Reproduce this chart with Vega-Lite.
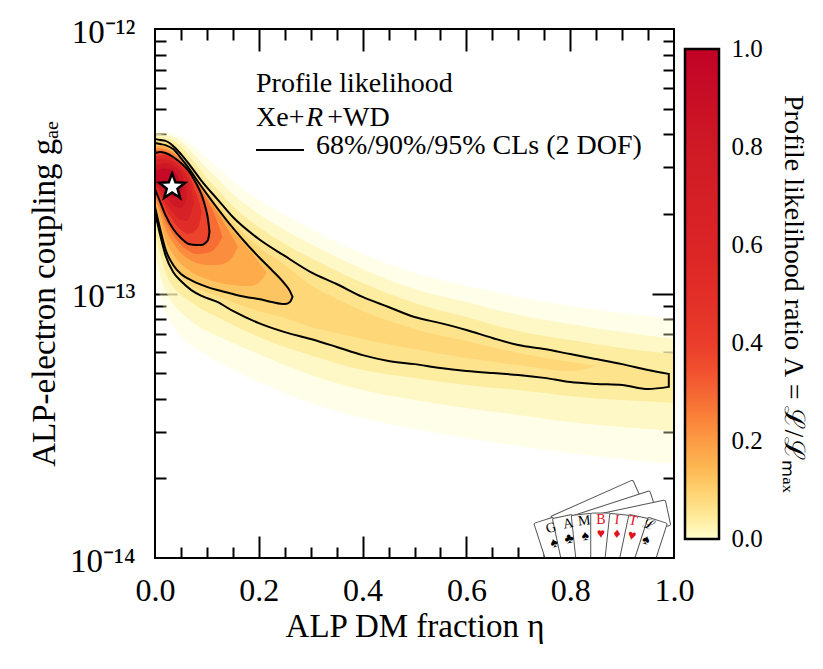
{
  "$schema": "https://vega.github.io/schema/vega-lite/v6.json",
  "background": "white",
  "padding": {"left": 28, "top": 16, "right": 5, "bottom": 5},
  "bounds": "flush",
  "spacing": 11,
  "datasets": {
    "bands": [
      {"b":"A","v":0.01,"x":0,"hi":-12.382,"lo":-12.938},
      {"b":"A","v":0.01,"x":0.01,"hi":-12.386,"lo":-13.013},
      {"b":"A","v":0.01,"x":0.02,"hi":-12.389,"lo":-13.070},
      {"b":"A","v":0.01,"x":0.04,"hi":-12.397,"lo":-13.138},
      {"b":"A","v":0.01,"x":0.06,"hi":-12.420,"lo":-13.180},
      {"b":"A","v":0.01,"x":0.08,"hi":-12.454,"lo":-13.210},
      {"b":"A","v":0.01,"x":0.10,"hi":-12.488,"lo":-13.233},
      {"b":"A","v":0.01,"x":0.12,"hi":-12.522,"lo":-13.255},
      {"b":"A","v":0.01,"x":0.15,"hi":-12.575,"lo":-13.285},
      {"b":"A","v":0.01,"x":0.2,"hi":-12.646,"lo":-13.335},
      {"b":"A","v":0.01,"x":0.25,"hi":-12.703,"lo":-13.376},
      {"b":"A","v":0.01,"x":0.3,"hi":-12.756,"lo":-13.414},
      {"b":"A","v":0.01,"x":0.4,"hi":-12.851,"lo":-13.471},
      {"b":"A","v":0.01,"x":0.5,"hi":-12.922,"lo":-13.512},
      {"b":"A","v":0.01,"x":0.6,"hi":-12.972,"lo":-13.546},
      {"b":"A","v":0.01,"x":0.7,"hi":-13.013,"lo":-13.577},
      {"b":"A","v":0.01,"x":0.8,"hi":-13.047,"lo":-13.603},
      {"b":"A","v":0.01,"x":0.9,"hi":-13.074,"lo":-13.626},
      {"b":"A","v":0.01,"x":1.0,"hi":-13.096,"lo":-13.645},
      {"b":"B","v":0.022,"x":0,"hi":-12.393,"lo":-12.843},
      {"b":"B","v":0.022,"x":0.01,"hi":-12.397,"lo":-12.930},
      {"b":"B","v":0.022,"x":0.02,"hi":-12.401,"lo":-12.987},
      {"b":"B","v":0.022,"x":0.04,"hi":-12.412,"lo":-13.051},
      {"b":"B","v":0.022,"x":0.06,"hi":-12.442,"lo":-13.089},
      {"b":"B","v":0.022,"x":0.08,"hi":-12.484,"lo":-13.119},
      {"b":"B","v":0.022,"x":0.10,"hi":-12.526,"lo":-13.142},
      {"b":"B","v":0.022,"x":0.12,"hi":-12.563,"lo":-13.161},
      {"b":"B","v":0.022,"x":0.15,"hi":-12.624,"lo":-13.187},
      {"b":"B","v":0.022,"x":0.2,"hi":-12.699,"lo":-13.229},
      {"b":"B","v":0.022,"x":0.25,"hi":-12.760,"lo":-13.270},
      {"b":"B","v":0.022,"x":0.3,"hi":-12.813,"lo":-13.308},
      {"b":"B","v":0.022,"x":0.4,"hi":-12.907,"lo":-13.365},
      {"b":"B","v":0.022,"x":0.5,"hi":-12.983,"lo":-13.403},
      {"b":"B","v":0.022,"x":0.6,"hi":-13.032,"lo":-13.433},
      {"b":"B","v":0.022,"x":0.7,"hi":-13.081,"lo":-13.459},
      {"b":"B","v":0.022,"x":0.8,"hi":-13.115,"lo":-13.486},
      {"b":"B","v":0.022,"x":0.9,"hi":-13.146,"lo":-13.505},
      {"b":"B","v":0.022,"x":1.0,"hi":-13.172,"lo":-13.520},
      {"b":"C","v":0.04,"x":0,"hi":-12.405,"lo":-12.767},
      {"b":"C","v":0.04,"x":0.01,"hi":-12.408,"lo":-12.851},
      {"b":"C","v":0.04,"x":0.02,"hi":-12.412,"lo":-12.919},
      {"b":"C","v":0.04,"x":0.04,"hi":-12.427,"lo":-12.987},
      {"b":"C","v":0.04,"x":0.06,"hi":-12.465,"lo":-13.021},
      {"b":"C","v":0.04,"x":0.08,"hi":-12.514,"lo":-13.047},
      {"b":"C","v":0.04,"x":0.10,"hi":-12.563,"lo":-13.070},
      {"b":"C","v":0.04,"x":0.12,"hi":-12.605,"lo":-13.089},
      {"b":"C","v":0.04,"x":0.15,"hi":-12.669,"lo":-13.119},
      {"b":"C","v":0.04,"x":0.2,"hi":-12.749,"lo":-13.164},
      {"b":"C","v":0.04,"x":0.25,"hi":-12.813,"lo":-13.202},
      {"b":"C","v":0.04,"x":0.3,"hi":-12.866,"lo":-13.233},
      {"b":"C","v":0.04,"x":0.4,"hi":-12.960,"lo":-13.289},
      {"b":"C","v":0.04,"x":0.5,"hi":-13.036,"lo":-13.319},
      {"b":"C","v":0.04,"x":0.6,"hi":-13.089,"lo":-13.346},
      {"b":"C","v":0.04,"x":0.7,"hi":-13.142,"lo":-13.365},
      {"b":"C","v":0.04,"x":0.8,"hi":-13.176,"lo":-13.388},
      {"b":"C","v":0.04,"x":0.9,"hi":-13.206,"lo":-13.403},
      {"b":"C","v":0.04,"x":1.0,"hi":-13.229,"lo":-13.414},
      {"b":"D","v":0.06,"x":0,"hi":-12.416,"lo":-12.692},
      {"b":"D","v":0.06,"x":0.01,"hi":-12.420,"lo":-12.779},
      {"b":"D","v":0.06,"x":0.02,"hi":-12.423,"lo":-12.854},
      {"b":"D","v":0.06,"x":0.035,"hi":-12.442,"lo":-12.919},
      {"b":"D","v":0.06,"x":0.05,"hi":-12.473,"lo":-12.953},
      {"b":"D","v":0.06,"x":0.07,"hi":-12.522,"lo":-12.987},
      {"b":"D","v":0.06,"x":0.09,"hi":-12.575,"lo":-13.009},
      {"b":"D","v":0.06,"x":0.12,"hi":-12.643,"lo":-13.032},
      {"b":"D","v":0.06,"x":0.15,"hi":-12.711,"lo":-13.066},
      {"b":"D","v":0.06,"x":0.2,"hi":-12.794,"lo":-13.112},
      {"b":"D","v":0.06,"x":0.25,"hi":-12.858,"lo":-13.146},
      {"b":"D","v":0.06,"x":0.3,"hi":-12.919,"lo":-13.172},
      {"b":"D","v":0.06,"x":0.35,"hi":-12.964,"lo":-13.202},
      {"b":"D","v":0.06,"x":0.4,"hi":-13.013,"lo":-13.233},
      {"b":"D","v":0.06,"x":0.45,"hi":-13.051,"lo":-13.255},
      {"b":"D","v":0.06,"x":0.5,"hi":-13.089,"lo":-13.267},
      {"b":"D","v":0.06,"x":0.55,"hi":-13.112,"lo":-13.282},
      {"b":"D","v":0.06,"x":0.6,"hi":-13.138,"lo":-13.293},
      {"b":"D","v":0.06,"x":0.65,"hi":-13.168,"lo":-13.301},
      {"b":"D","v":0.06,"x":0.7,"hi":-13.195,"lo":-13.308},
      {"b":"D","v":0.06,"x":0.75,"hi":-13.210,"lo":-13.319},
      {"b":"D","v":0.06,"x":0.8,"hi":-13.229,"lo":-13.335},
      {"b":"D","v":0.06,"x":0.85,"hi":-13.248,"lo":-13.342},
      {"b":"D","v":0.06,"x":0.9,"hi":-13.267,"lo":-13.346},
      {"b":"D","v":0.06,"x":0.95,"hi":-13.289,"lo":-13.361},
      {"b":"D","v":0.06,"x":0.99,"hi":-13.304,"lo":-13.353},
      {"b":"E","v":0.085,"x":0,"hi":-12.423,"lo":-12.681},
      {"b":"E","v":0.085,"x":0.01,"hi":-12.427,"lo":-12.767},
      {"b":"E","v":0.085,"x":0.02,"hi":-12.431,"lo":-12.843},
      {"b":"E","v":0.085,"x":0.035,"hi":-12.448,"lo":-12.905},
      {"b":"E","v":0.085,"x":0.05,"hi":-12.480,"lo":-12.939},
      {"b":"E","v":0.085,"x":0.07,"hi":-12.531,"lo":-12.970},
      {"b":"E","v":0.085,"x":0.09,"hi":-12.586,"lo":-12.989},
      {"b":"E","v":0.085,"x":0.12,"hi":-12.660,"lo":-13.009},
      {"b":"E","v":0.085,"x":0.15,"hi":-12.730,"lo":-13.034},
      {"b":"E","v":0.085,"x":0.2,"hi":-12.824,"lo":-13.066},
      {"b":"E","v":0.085,"x":0.25,"hi":-12.892,"lo":-13.093},
      {"b":"E","v":0.085,"x":0.3,"hi":-12.968,"lo":-13.127},
      {"b":"E","v":0.085,"x":0.35,"hi":-13.021,"lo":-13.149},
      {"b":"E","v":0.085,"x":0.4,"hi":-13.066,"lo":-13.172},
      {"b":"E","v":0.085,"x":0.5,"hi":-13.134,"lo":-13.210},
      {"b":"E","v":0.085,"x":0.6,"hi":-13.180,"lo":-13.244},
      {"b":"E","v":0.085,"x":0.7,"hi":-13.225,"lo":-13.270},
      {"b":"E","v":0.085,"x":0.8,"hi":-13.259,"lo":-13.293},
      {"b":"E","v":0.085,"x":0.85,"hi":-13.274,"lo":-13.274},
      {"b":"F","v":0.12,"x":0,"hi":-12.431,"lo":-12.673},
      {"b":"F","v":0.12,"x":0.01,"hi":-12.435,"lo":-12.756},
      {"b":"F","v":0.12,"x":0.02,"hi":-12.439,"lo":-12.832},
      {"b":"F","v":0.12,"x":0.035,"hi":-12.454,"lo":-12.892},
      {"b":"F","v":0.12,"x":0.05,"hi":-12.488,"lo":-12.926},
      {"b":"F","v":0.12,"x":0.065,"hi":-12.526,"lo":-12.945},
      {"b":"F","v":0.12,"x":0.08,"hi":-12.569,"lo":-12.960},
      {"b":"F","v":0.12,"x":0.1,"hi":-12.624,"lo":-12.975},
      {"b":"F","v":0.12,"x":0.12,"hi":-12.677,"lo":-12.987},
      {"b":"F","v":0.12,"x":0.15,"hi":-12.752,"lo":-13.002},
      {"b":"F","v":0.12,"x":0.175,"hi":-12.809,"lo":-13.013},
      {"b":"F","v":0.12,"x":0.2,"hi":-12.862,"lo":-13.021},
      {"b":"F","v":0.12,"x":0.225,"hi":-12.911,"lo":-13.032},
      {"b":"F","v":0.12,"x":0.25,"hi":-12.964,"lo":-13.040},
      {"b":"F","v":0.12,"x":0.26,"hi":-12.991,"lo":-13.032},
      {"b":"F","v":0.12,"x":0.265,"hi":-13.013,"lo":-13.013},
      {"b":"G","v":0.17,"x":0,"hi":-12.442,"lo":-12.654},
      {"b":"G","v":0.17,"x":0.01,"hi":-12.442,"lo":-12.726},
      {"b":"G","v":0.17,"x":0.02,"hi":-12.446,"lo":-12.794},
      {"b":"G","v":0.17,"x":0.035,"hi":-12.461,"lo":-12.851},
      {"b":"G","v":0.17,"x":0.05,"hi":-12.491,"lo":-12.888},
      {"b":"G","v":0.17,"x":0.065,"hi":-12.527,"lo":-12.911},
      {"b":"G","v":0.17,"x":0.08,"hi":-12.571,"lo":-12.930},
      {"b":"G","v":0.17,"x":0.1,"hi":-12.629,"lo":-12.945},
      {"b":"G","v":0.17,"x":0.12,"hi":-12.684,"lo":-12.957},
      {"b":"G","v":0.17,"x":0.15,"hi":-12.764,"lo":-12.968},
      {"b":"G","v":0.17,"x":0.18,"hi":-12.832,"lo":-12.972},
      {"b":"G","v":0.17,"x":0.2,"hi":-12.881,"lo":-12.960},
      {"b":"G","v":0.17,"x":0.215,"hi":-12.922,"lo":-12.922},
      {"b":"H","v":0.225,"x":0,"hi":-12.450,"lo":-12.635},
      {"b":"H","v":0.225,"x":0.01,"hi":-12.450,"lo":-12.696},
      {"b":"H","v":0.225,"x":0.02,"hi":-12.454,"lo":-12.756},
      {"b":"H","v":0.225,"x":0.035,"hi":-12.469,"lo":-12.809},
      {"b":"H","v":0.225,"x":0.05,"hi":-12.495,"lo":-12.847},
      {"b":"H","v":0.225,"x":0.065,"hi":-12.529,"lo":-12.870},
      {"b":"H","v":0.225,"x":0.08,"hi":-12.575,"lo":-12.885},
      {"b":"H","v":0.225,"x":0.1,"hi":-12.635,"lo":-12.892},
      {"b":"H","v":0.225,"x":0.12,"hi":-12.692,"lo":-12.892},
      {"b":"H","v":0.225,"x":0.14,"hi":-12.756,"lo":-12.881},
      {"b":"H","v":0.225,"x":0.16,"hi":-12.824,"lo":-12.824},
      {"b":"I","v":0.285,"x":0,"hi":-12.457,"lo":-12.624},
      {"b":"I","v":0.285,"x":0.01,"hi":-12.457,"lo":-12.677},
      {"b":"I","v":0.285,"x":0.02,"hi":-12.461,"lo":-12.726},
      {"b":"I","v":0.285,"x":0.035,"hi":-12.476,"lo":-12.779},
      {"b":"I","v":0.285,"x":0.05,"hi":-12.501,"lo":-12.817},
      {"b":"I","v":0.285,"x":0.065,"hi":-12.533,"lo":-12.839},
      {"b":"I","v":0.285,"x":0.08,"hi":-12.578,"lo":-12.851},
      {"b":"I","v":0.285,"x":0.1,"hi":-12.646,"lo":-12.847},
      {"b":"I","v":0.285,"x":0.115,"hi":-12.703,"lo":-12.832},
      {"b":"I","v":0.285,"x":0.13,"hi":-12.786,"lo":-12.786},
      {"b":"J","v":0.38,"x":0,"hi":-12.469,"lo":-12.605},
      {"b":"J","v":0.38,"x":0.01,"hi":-12.465,"lo":-12.654},
      {"b":"J","v":0.38,"x":0.02,"hi":-12.469,"lo":-12.703},
      {"b":"J","v":0.38,"x":0.035,"hi":-12.484,"lo":-12.756},
      {"b":"J","v":0.38,"x":0.05,"hi":-12.507,"lo":-12.790},
      {"b":"J","v":0.38,"x":0.065,"hi":-12.537,"lo":-12.813},
      {"b":"J","v":0.38,"x":0.08,"hi":-12.586,"lo":-12.817},
      {"b":"J","v":0.38,"x":0.09,"hi":-12.628,"lo":-12.817},
      {"b":"J","v":0.38,"x":0.097,"hi":-12.673,"lo":-12.809},
      {"b":"J","v":0.38,"x":0.102,"hi":-12.718,"lo":-12.798},
      {"b":"J","v":0.38,"x":0.105,"hi":-12.767,"lo":-12.767},
      {"b":"K","v":0.52,"x":0,"hi":-12.484,"lo":-12.597},
      {"b":"K","v":0.52,"x":0.01,"hi":-12.476,"lo":-12.635},
      {"b":"K","v":0.52,"x":0.02,"hi":-12.476,"lo":-12.677},
      {"b":"K","v":0.52,"x":0.035,"hi":-12.491,"lo":-12.726},
      {"b":"K","v":0.52,"x":0.05,"hi":-12.514,"lo":-12.760},
      {"b":"K","v":0.52,"x":0.065,"hi":-12.548,"lo":-12.775},
      {"b":"K","v":0.52,"x":0.075,"hi":-12.597,"lo":-12.767},
      {"b":"K","v":0.52,"x":0.085,"hi":-12.654,"lo":-12.741},
      {"b":"K","v":0.52,"x":0.09,"hi":-12.692,"lo":-12.692},
      {"b":"L","v":0.67,"x":0,"hi":-12.499,"lo":-12.590},
      {"b":"L","v":0.67,"x":0.01,"hi":-12.491,"lo":-12.620},
      {"b":"L","v":0.67,"x":0.02,"hi":-12.491,"lo":-12.654},
      {"b":"L","v":0.67,"x":0.035,"hi":-12.503,"lo":-12.696},
      {"b":"L","v":0.67,"x":0.05,"hi":-12.526,"lo":-12.722},
      {"b":"L","v":0.67,"x":0.06,"hi":-12.552,"lo":-12.726},
      {"b":"L","v":0.67,"x":0.07,"hi":-12.605,"lo":-12.696},
      {"b":"L","v":0.67,"x":0.075,"hi":-12.654,"lo":-12.654},
      {"b":"M","v":0.82,"x":0,"hi":-12.518,"lo":-12.578},
      {"b":"M","v":0.82,"x":0.01,"hi":-12.510,"lo":-12.605},
      {"b":"M","v":0.82,"x":0.02,"hi":-12.507,"lo":-12.631},
      {"b":"M","v":0.82,"x":0.035,"hi":-12.518,"lo":-12.665},
      {"b":"M","v":0.82,"x":0.05,"hi":-12.544,"lo":-12.677},
      {"b":"M","v":0.82,"x":0.058,"hi":-12.590,"lo":-12.658},
      {"b":"M","v":0.82,"x":0.062,"hi":-12.628,"lo":-12.628},
      {"b":"N","v":0.95,"x":0,"hi":-12.541,"lo":-12.567},
      {"b":"N","v":0.95,"x":0.01,"hi":-12.529,"lo":-12.586},
      {"b":"N","v":0.95,"x":0.02,"hi":-12.526,"lo":-12.609},
      {"b":"N","v":0.95,"x":0.035,"hi":-12.537,"lo":-12.635},
      {"b":"N","v":0.95,"x":0.045,"hi":-12.563,"lo":-12.635},
      {"b":"N","v":0.95,"x":0.052,"hi":-12.605,"lo":-12.605}
    ],
    "star": [{"x":0.033,"lg":-12.597}],
    "notes": [
      {"x":0.1946,"lg":-12.238,"t":"Profile likelihood"},
      {"x":0.1946,"lg":-12.366,"t":"Xe+"},
      {"x":0.332,"lg":-12.366,"t":"+WD"},
      {"x":0.3102,"lg":-12.473,"t":"68%/90%/95% CLs (2 DOF)"}
    ],
    "notesItalic": [{"x":0.2909,"lg":-12.366,"t":"R"}],
    "legline": [{"x":0.1946,"x2":0.2871,"lg":-12.457}],
    "backcards": [
      {"i":7,"x":0.8516,"lg":-13.819},
      {"i":8,"x":0.8786,"lg":-13.845},
      {"i":9,"x":0.9037,"lg":-13.864}
    ],
    "cards": [
      {"i":0,"x":0.765,"lg":-13.958},
      {"i":1,"x":0.796,"lg":-13.947},
      {"i":2,"x":0.827,"lg":-13.940},
      {"i":3,"x":0.859,"lg":-13.936},
      {"i":4,"x":0.890,"lg":-13.940},
      {"i":5,"x":0.921,"lg":-13.947},
      {"i":6,"x":0.952,"lg":-13.958}
    ],
    "glyphs": [
      {"i":0,"x":0.763,"lg":-13.887,"t":"G"},
      {"i":1,"x":0.796,"lg":-13.871,"t":"A"},
      {"i":2,"x":0.827,"lg":-13.860,"t":"M"},
      {"i":3,"x":0.859,"lg":-13.856,"t":"B"},
      {"i":4,"x":0.890,"lg":-13.856,"t":"I"},
      {"i":5,"x":0.921,"lg":-13.860,"t":"T"},
      {"i":6,"x":0.952,"lg":-13.875,"t":"ℒ"},
      {"i":0,"x":0.769,"lg":-13.943,"t":"♠"},
      {"i":1,"x":0.798,"lg":-13.928,"t":"♣"},
      {"i":2,"x":0.829,"lg":-13.917,"t":"♠"},
      {"i":3,"x":0.859,"lg":-13.909,"t":"♥"},
      {"i":4,"x":0.890,"lg":-13.909,"t":"♦"},
      {"i":5,"x":0.919,"lg":-13.917,"t":"♥"},
      {"i":6,"x":0.946,"lg":-13.932,"t":"♠"}
    ],
    "frame": [{"x0":0,"x1":1,"y0":-14,"y1":-12}],
    "cbar": [{"x0":0,"x1":1,"lo":0,"hi":1}]
  },
  "hconcat": [
    {
      "width": 519,
      "height": 529,
      "layer": [
        {
          "data": {"name": "bands"},
          "encoding": {
            "x": {"field":"x","type":"quantitative","scale":{"domain":[0,1],"nice":false,"zero":false},
                  "axis":{"orient":"bottom","values":[0,0.2,0.4,0.6,0.8,1],"format":".1f","ticks":false,"labelFontSize":32,"labelPadding":17,"title":"ALP DM fraction η","titleFontSize":33,"titlePadding":4}},
            "y": {"field":"lo","type":"quantitative","scale":{"domain":[-14,-12],"nice":false,"zero":false},
                  "axis":{"orient":"left","values":[-14,-13,-12],"labelExpr":"datum.value == -12 ? '10⁻¹²' : (datum.value == -13 ? '10⁻¹³' : '10⁻¹⁴')","ticks":false,"labelFontSize":33,"labelPadding":20,"labelOffset":3,"title":"ALP-electron coupling gₐₑ","titleFontSize":33,"titlePadding":8}},
            "y2": {"field":"hi"},
            "color": {"field":"v","type":"quantitative","legend":null,
                      "scale":{"domain":[0,0.05,0.1,0.15,0.2,0.25,0.3,0.35,0.4,0.5,0.6,0.8,1.0],
                               "range":["#ffffcc","#fee895","#fed06e","#fdb551","#fc9b44","#fa8039","#f56533","#f04e2e","#ea3d2b","#e22e27","#da2426","#cf1a25","#c10226"]}},
            "opacity": {"condition":[{"test":"datum.v < 0.015","value":0.35},{"test":"datum.v < 0.03","value":0.65}],"value":1}
          },
          "layer": [
            {"transform":[{"filter":"datum.b==='A'"}],"mark":{"type":"area","interpolate":"monotone","clip":true}},
            {"transform":[{"filter":"datum.b==='B'"}],"mark":{"type":"area","interpolate":"monotone","clip":true}},
            {"transform":[{"filter":"datum.b==='C'"}],"mark":{"type":"area","interpolate":"monotone","clip":true}},
            {"transform":[{"filter":"datum.b==='D'"}],"mark":{"type":"area","interpolate":"monotone","clip":true}},
            {"transform":[{"filter":"datum.b==='E'"}],"mark":{"type":"area","interpolate":"monotone","clip":true}},
            {"transform":[{"filter":"datum.b==='F'"}],"mark":{"type":"area","interpolate":"monotone","clip":true}},
            {"transform":[{"filter":"datum.b==='G'"}],"mark":{"type":"area","interpolate":"monotone","clip":true}},
            {"transform":[{"filter":"datum.b==='H'"}],"mark":{"type":"area","interpolate":"monotone","clip":true}},
            {"transform":[{"filter":"datum.b==='I'"}],"mark":{"type":"area","interpolate":"monotone","clip":true}},
            {"transform":[{"filter":"datum.b==='J'"}],"mark":{"type":"area","interpolate":"monotone","clip":true}},
            {"transform":[{"filter":"datum.b==='K'"}],"mark":{"type":"area","interpolate":"monotone","clip":true}},
            {"transform":[{"filter":"datum.b==='L'"}],"mark":{"type":"area","interpolate":"monotone","clip":true}},
            {"transform":[{"filter":"datum.b==='M'"}],"mark":{"type":"area","interpolate":"monotone","clip":true}},
            {"transform":[{"filter":"datum.b==='N'"}],"mark":{"type":"area","interpolate":"monotone","clip":true}}
          ]
        },
        {
          "data": {"name": "bands"},
          "encoding": {
            "x": {"field":"x","type":"quantitative","scale":{"domain":[0,1],"nice":false,"zero":false},
                  "axis":{"orient":"bottom","values":[0.2,0.4,0.6,0.8],"labels":false,"tickSize":-22,"title":null}},
            "y": {"field":"lo","type":"quantitative","scale":{"domain":[-14,-12],"nice":false,"zero":false},
                  "axis":{"orient":"left","values":[-13],"labels":false,"tickSize":-22,"title":null}},
            "y2": {"field":"hi"}
          },
          "layer": [
            {"transform":[{"filter":"datum.b==='D'"}],"mark":{"type":"area","interpolate":"monotone","fillOpacity":0,"stroke":"black","strokeWidth":2,"clip":true}},
            {"transform":[{"filter":"datum.b==='F'"}],"mark":{"type":"area","interpolate":"monotone","fillOpacity":0,"stroke":"black","strokeWidth":2,"clip":true}},
            {"transform":[{"filter":"datum.b==='J'"}],"mark":{"type":"area","interpolate":"monotone","fillOpacity":0,"stroke":"black","strokeWidth":2,"clip":true}}
          ]
        },
        {
          "data": {"name": "star"},
          "mark": {"type":"point","shape":"M0,-1L0.247,-0.34L0.951,-0.309L0.399,0.13L0.588,0.809L0,0.42L-0.588,0.809L-0.399,0.13L-0.951,-0.309L-0.247,-0.34Z","size":729,"filled":true,"fill":"white","stroke":"black","strokeWidth":2.5,"opacity":1},
          "encoding": {
            "x": {"field":"x","type":"quantitative","scale":{"domain":[0,1],"nice":false,"zero":false},
                  "axis":{"orient":"bottom","values":[0.05,0.1,0.15,0.25,0.3,0.35,0.45,0.5,0.55,0.65,0.7,0.75,0.85,0.9,0.95],"labels":false,"tickSize":-11,"title":null}},
            "y": {"field":"lg","type":"quantitative","scale":{"domain":[-14,-12],"nice":false,"zero":false},
                  "axis":{"orient":"left","values":[-13.699,-13.523,-13.398,-13.301,-13.222,-13.155,-13.097,-13.046,-12.699,-12.523,-12.398,-12.301,-12.222,-12.155,-12.097,-12.046],"labels":false,"tickSize":-11,"title":null}}
          }
        },
        {
          "data": {"name": "notes"},
          "mark": {"type":"text","align":"left","baseline":"alphabetic","fontSize":28,"font":"Liberation Serif","color":"black"},
          "encoding": {
            "x": {"field":"x","type":"quantitative","scale":{"domain":[0,1],"nice":false,"zero":false},
                  "axis":{"orient":"top","values":[0.2,0.4,0.6,0.8],"labels":false,"tickSize":-22,"title":null}},
            "y": {"field":"lg","type":"quantitative","scale":{"domain":[-14,-12],"nice":false,"zero":false},
                  "axis":{"orient":"right","values":[-13],"labels":false,"tickSize":-22,"title":null}},
            "text": {"field":"t"}
          }
        },
        {
          "data": {"name": "legline"},
          "mark": {"type":"rule","stroke":"black","strokeWidth":2},
          "encoding": {
            "x": {"field":"x","type":"quantitative","scale":{"domain":[0,1],"nice":false,"zero":false},
                  "axis":{"orient":"top","values":[0.05,0.1,0.15,0.25,0.3,0.35,0.45,0.5,0.55,0.65,0.7,0.75,0.85,0.9,0.95],"labels":false,"tickSize":-11,"title":null}},
            "x2": {"field":"x2"},
            "y": {"field":"lg","type":"quantitative","scale":{"domain":[-14,-12],"nice":false,"zero":false},
                  "axis":{"orient":"right","values":[-13.699,-13.523,-13.398,-13.301,-13.222,-13.155,-13.097,-13.046,-12.699,-12.523,-12.398,-12.301,-12.222,-12.155,-12.097,-12.046],"labels":false,"tickSize":-11,"title":null}}
          }
        },
        {
          "data": {"name": "notesItalic"},
          "mark": {"type":"text","align":"left","baseline":"alphabetic","fontSize":28,"font":"Liberation Serif","fontStyle":"italic","color":"black"},
          "encoding": {
            "x": {"field":"x","type":"quantitative","scale":{"domain":[0,1],"nice":false,"zero":false},"axis":null},
            "y": {"field":"lg","type":"quantitative","scale":{"domain":[-14,-12],"nice":false,"zero":false},"axis":null},
            "text": {"field":"t"}
          }
        },
        {
          "data": {"name": "backcards"},
          "mark": {"type":"point","shape":"M-0.25,-1L0.25,-1Q0.29,-1 0.29,-0.96L0.29,0.96Q0.29,1 0.25,1L-0.25,1Q-0.29,1 -0.29,0.96L-0.29,-0.96Q-0.29,-1 -0.25,-1Z","size":8100,"filled":true,"fill":"white","stroke":"#555555","strokeWidth":1,"opacity":1,"clip":true},
          "encoding": {
            "x": {"field":"x","type":"quantitative","scale":{"domain":[0,1],"nice":false,"zero":false},"axis":null},
            "y": {"field":"lg","type":"quantitative","scale":{"domain":[-14,-12],"nice":false,"zero":false},"axis":null},
            "angle": {"field":"i","type":"quantitative","scale":{"domain":[0,6,7,9],"range":[-18,18,66,78]},"legend":null}
          }
        },
        {
          "data": {"name": "cards"},
          "mark": {"type":"point","shape":"M-0.3,-1L0.3,-1Q0.36,-1 0.36,-0.95L0.36,0.95Q0.36,1 0.3,1L-0.3,1Q-0.36,1 -0.36,0.95L-0.36,-0.95Q-0.36,-1 -0.3,-1Z","size":3136,"filled":true,"fill":"white","stroke":"#555555","strokeWidth":1,"opacity":1,"clip":true},
          "encoding": {
            "x": {"field":"x","type":"quantitative","scale":{"domain":[0,1],"nice":false,"zero":false},"axis":null},
            "y": {"field":"lg","type":"quantitative","scale":{"domain":[-14,-12],"nice":false,"zero":false},"axis":null},
            "angle": {"field":"i","type":"quantitative","scale":{"domain":[0,6,7,9],"range":[-18,18,66,78]},"legend":null}
          }
        },
        {
          "data": {"name": "glyphs"},
          "mark": {"type":"text","align":"center","baseline":"middle","fontSize":14,"font":"Liberation Serif"},
          "encoding": {
            "x": {"field":"x","type":"quantitative","scale":{"domain":[0,1],"nice":false,"zero":false},"axis":null},
            "y": {"field":"lg","type":"quantitative","scale":{"domain":[-14,-12],"nice":false,"zero":false},"axis":null},
            "text": {"field":"t"},
            "angle": {"field":"i","type":"quantitative","scale":{"domain":[0,6,7,9],"range":[-18,18,66,78]},"legend":null},
            "color": {"condition":{"test":"indexof(['B','I','T','♥','♦'], datum.t) >= 0","value":"#e3111b"},"value":"black"}
          }
        },
        {
          "data": {"name": "frame"},
          "mark": {"type":"rect","fillOpacity":0,"stroke":"black","strokeWidth":2},
          "encoding": {
            "x": {"field":"x0","type":"quantitative","scale":{"domain":[0,1],"nice":false,"zero":false},"axis":null},
            "x2": {"field":"x1"},
            "y": {"field":"y0","type":"quantitative","scale":{"domain":[-14,-12],"nice":false,"zero":false},"axis":null},
            "y2": {"field":"y1"}
          }
        }
      ],
      "resolve": {"axis": {"x": "independent", "y": "independent"}}
    },
    {
      "width": 34,
      "height": 529,
      "data": {"name": "cbar"},
      "layer": [
        {
          "mark": {"type":"rect","fill":{"gradient":"linear","x1":0,"y1":1,"x2":0,"y2":0,
                    "stops":[{"offset":0,"color":"#ffffcc"},{"offset":0.05,"color":"#fee895"},{"offset":0.1,"color":"#fed06e"},{"offset":0.15,"color":"#fdb551"},{"offset":0.2,"color":"#fc9b44"},{"offset":0.25,"color":"#fa8039"},{"offset":0.3,"color":"#f56533"},{"offset":0.35,"color":"#f04e2e"},{"offset":0.4,"color":"#ea3d2b"},{"offset":0.5,"color":"#e22e27"},{"offset":0.6,"color":"#da2426"},{"offset":0.8,"color":"#cf1a25"},{"offset":1,"color":"#c10226"}]},
                   "stroke":"black","strokeWidth":2.5},
          "encoding": {
            "x": {"field":"x0","type":"quantitative","scale":{"domain":[0,1],"nice":false,"zero":false},"axis":null},
            "x2": {"field":"x1"},
            "y": {"field":"lo","type":"quantitative","scale":{"domain":[-0.0388,1.0408],"nice":false,"zero":false},
                  "axis":{"orient":"right","values":[0,0.2,0.4,0.6,0.8,1],"format":".1f","ticks":false,"labelFontSize":25,"labelPadding":12,"title":"Profile likelihood ratio Λ = ℒ/ℒₘₐₓ","titleFontSize":28,"titlePadding":16}},
            "y2": {"field":"hi"}
          }
        },
        {
          "mark": {"type":"rect","opacity":0},
          "encoding": {
            "x": {"field":"x0","type":"quantitative","scale":{"domain":[0,1],"nice":false,"zero":false},"axis":null},
            "x2": {"field":"x1"},
            "y": {"field":"lo","type":"quantitative","scale":{"domain":[-0.0388,1.0408],"nice":false,"zero":false},
                  "axis":{"orient":"right","values":[0.2,0.4,0.6,0.8],"labels":false,"tickSize":-21,"title":null}},
            "y2": {"field":"hi"}
          }
        },
        {
          "mark": {"type":"rect","opacity":0},
          "encoding": {
            "x": {"field":"x0","type":"quantitative","scale":{"domain":[0,1],"nice":false,"zero":false},"axis":null},
            "x2": {"field":"x1"},
            "y": {"field":"lo","type":"quantitative","scale":{"domain":[-0.0388,1.0408],"nice":false,"zero":false},
                  "axis":{"orient":"right","values":[0.05,0.1,0.15,0.25,0.3,0.35,0.45,0.5,0.55,0.65,0.7,0.75,0.85,0.9,0.95],"labels":false,"tickSize":-9,"title":null}},
            "y2": {"field":"hi"}
          }
        }
      ],
      "resolve": {"axis": {"y": "independent"}}
    }
  ],
  "config": {
    "font": "Liberation Serif",
    "view": {"stroke": null},
    "axis": {"domain": false, "grid": false, "tickColor": "black", "tickWidth": 2, "labelColor": "black", "titleColor": "black",
             "labelFont": "Liberation Serif", "titleFont": "Liberation Serif", "titleFontWeight": "normal",
             "labelFlush": false, "labelOverlap": false, "zindex": 1}
  }
}
